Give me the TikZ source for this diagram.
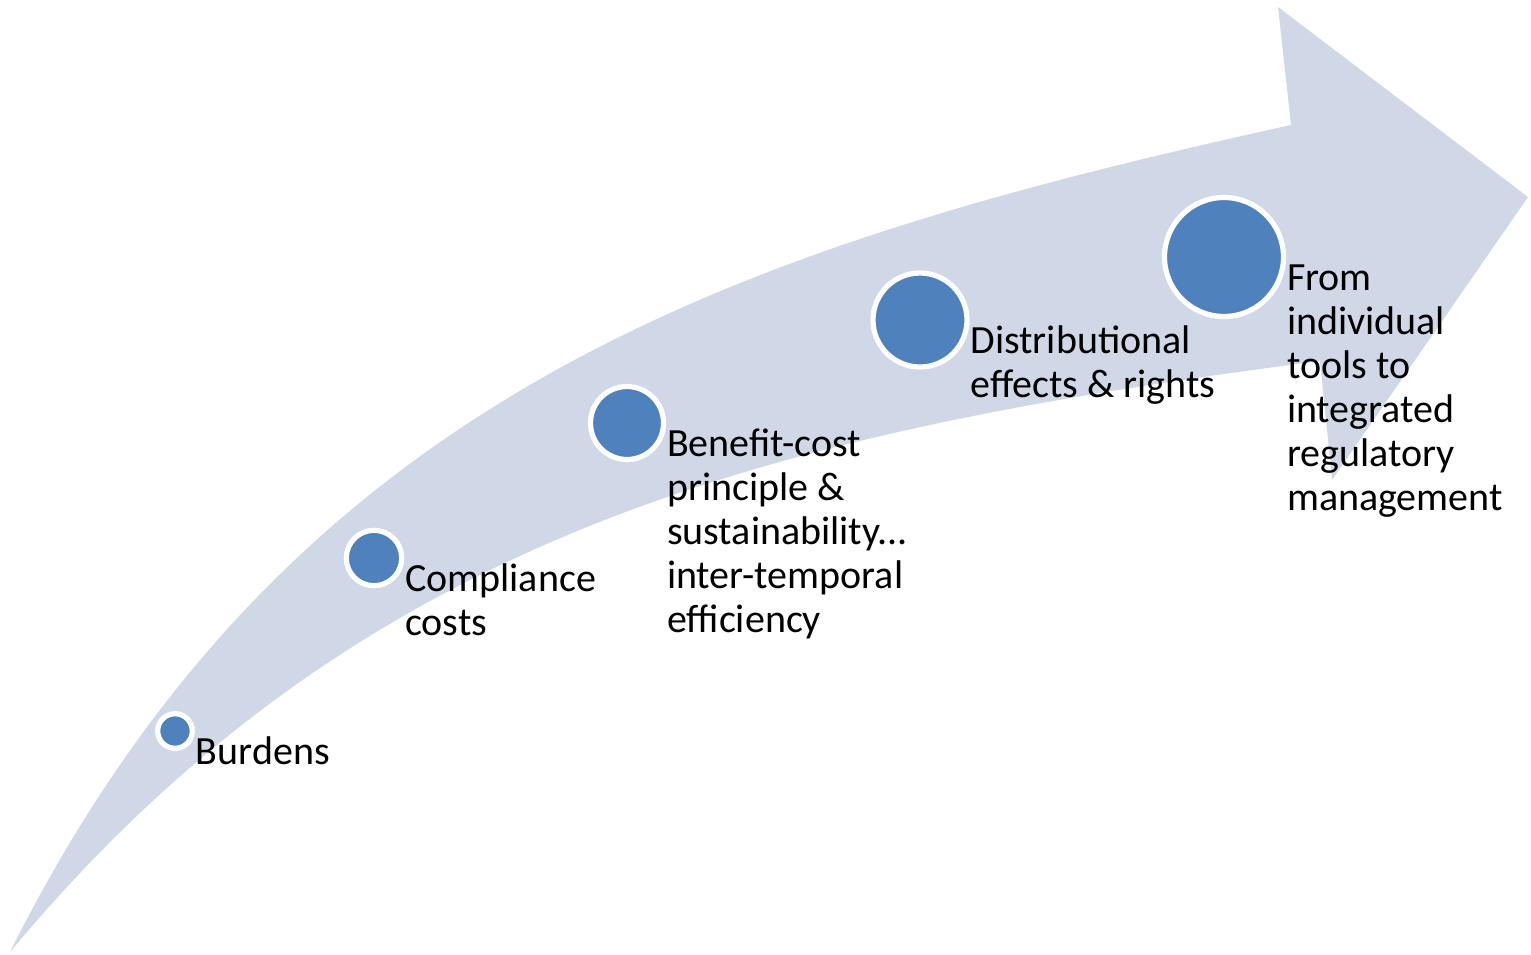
\documentclass[tikz,border=0pt]{standalone}
\usepackage{fontspec}
\setmainfont{Carlito}
\definecolor{stageblue}{RGB}{79,129,189}
\definecolor{arrowblue}{RGB}{208,216,232}
\usetikzlibrary{positioning}

\begin{document}
\begin{tikzpicture}[x=0.5pt, y=-0.5pt,
    every node/.style={font=\fontsize{20}{22}\selectfont},
    dot/.style={circle, draw=white, line width=2.6pt, fill=stageblue, inner sep=0pt, outer sep=0pt},
    lbl/.style={anchor=north west, align=left, inner sep=0pt, xshift=1.6pt, yshift=-1.1pt}]
    \useasboundingbox (0,0) rectangle (1531,954);
    % Curved arrow
    \fill[arrowblue] (10,952) .. controls (290,392) and (741,246) .. (1291,125)
        -- (1278,7) -- (1528,197) -- (1332,480) -- (1320,361)
        .. controls (770,432.5) and (360,532) .. (10,952) -- cycle;
    
    % Stages along the arrow
    \node[dot, minimum size=17.3pt] (bur) at (175,731) {};
    \node[lbl] (burtxt) at (bur.east) {\strut Burdens};
    
    \node[dot, minimum size=27.7pt] (comp) at (374,558) {};
    \node[lbl] (comptxt) at (comp.east) {\strut Compliance\\costs};
    
    \node[dot, minimum size=36.5pt] (ben) at (627,423) {};
    \node[lbl] (bentxt) at (ben.east) {\strut Benefit-cost\\principle \&\\sustainability...\\inter-temporal\\efficiency};
    
    \node[dot, minimum size=47pt] (dist) at (920,320) {};
    \node[lbl] (disttxt) at (dist.east) {\strut Distributional\\effects \& rights};
    
    \node[dot, minimum size=59.5pt] (reg) at (1224,257) {};
    \node[lbl] (regtxt) at (reg.east) {\strut From\\individual\\tools to\\integrated\\regulatory\\management};
\end{tikzpicture}
\end{document}
